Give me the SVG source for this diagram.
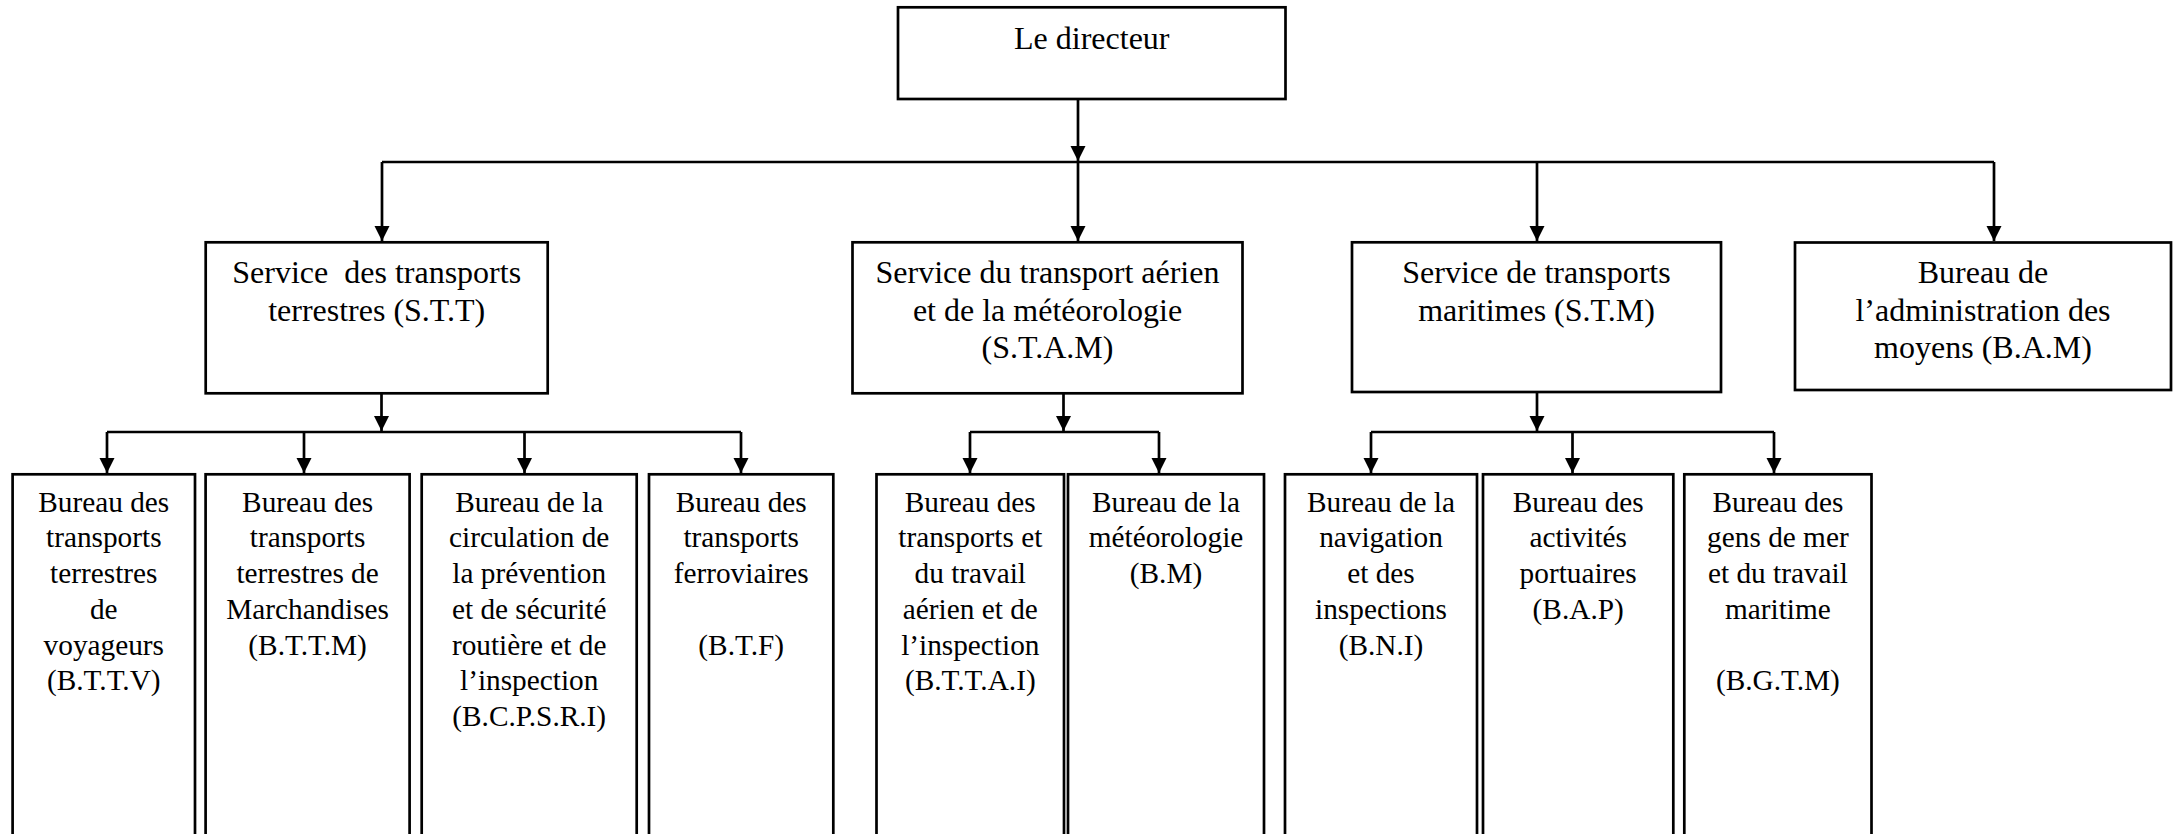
<svg xmlns="http://www.w3.org/2000/svg" width="2178" height="834" viewBox="0 0 2178 834">
<style>
.box{fill:#fff;stroke:#000;stroke-width:2.7}
.t{font-family:"Liberation Serif","Times New Roman",serif;fill:#000;text-anchor:middle}
.l1{font-size:32px}
.l3{font-size:29.3px}
.c{fill:none;stroke:#000;stroke-width:2.7}
.a{marker-end:url(#arr)}
</style>
<defs>
<marker id="arr" markerUnits="userSpaceOnUse" markerWidth="16" markerHeight="16" refX="15" refY="7.5" orient="auto">
<path d="M0,0 L15,7.5 L0,15 z" fill="#000"/>
</marker>
</defs>
<rect width="2178" height="834" fill="#fff"/>
<g id="connectors">
<line class="c a" x1="1078" y1="99" x2="1078" y2="161"/>
<line class="c" x1="382" y1="162" x2="1994" y2="162"/>
<line class="c a" x1="382" y1="162" x2="382" y2="241"/>
<line class="c a" x1="1078" y1="162" x2="1078" y2="241"/>
<line class="c a" x1="1537" y1="162" x2="1537" y2="241"/>
<line class="c a" x1="1994" y1="162" x2="1994" y2="241"/>
<line class="c a" x1="381.5" y1="393" x2="381.5" y2="431"/>
<line class="c" x1="107" y1="432" x2="741" y2="432"/>
<line class="c a" x1="107" y1="432" x2="107" y2="473"/>
<line class="c a" x1="304" y1="432" x2="304" y2="473"/>
<line class="c a" x1="524.5" y1="432" x2="524.5" y2="473"/>
<line class="c a" x1="741" y1="432" x2="741" y2="473"/>
<line class="c a" x1="1063.5" y1="393" x2="1063.5" y2="431"/>
<line class="c" x1="970" y1="432" x2="1159" y2="432"/>
<line class="c a" x1="970" y1="432" x2="970" y2="473"/>
<line class="c a" x1="1159" y1="432" x2="1159" y2="473"/>
<line class="c a" x1="1537" y1="392" x2="1537" y2="431"/>
<line class="c" x1="1371" y1="432" x2="1774" y2="432"/>
<line class="c a" x1="1371" y1="432" x2="1371" y2="473"/>
<line class="c a" x1="1572.5" y1="432" x2="1572.5" y2="473"/>
<line class="c a" x1="1774" y1="432" x2="1774" y2="473"/>
</g>
<g id="directeur">
<rect class="box" x="898" y="7.3" width="387.5" height="91.7"/>
<text class="t l1" x="1091.8" y="49.3">Le directeur</text>
</g>
<g id="stt">
<rect class="box" x="205.7" y="242.3" width="342" height="151"/>
<text class="t l1" xml:space="preserve"><tspan x="376.7" y="283">Service  des transports</tspan><tspan x="376.7" y="320.5">terrestres (S.T.T)</tspan></text>
</g>
<g id="stam">
<rect class="box" x="852.5" y="242.3" width="390" height="151"/>
<text class="t l1"><tspan x="1047.5" y="283">Service du transport aérien</tspan><tspan x="1047.5" y="320.5">et de la météorologie</tspan><tspan x="1047.5" y="358">(S.T.A.M)</tspan></text>
</g>
<g id="stm">
<rect class="box" x="1352" y="242.3" width="369" height="149.7"/>
<text class="t l1"><tspan x="1536.5" y="283">Service de transports</tspan><tspan x="1536.5" y="320.5">maritimes (S.T.M)</tspan></text>
</g>
<g id="bam">
<rect class="box" x="1795" y="242.5" width="376" height="147.5"/>
<text class="t l1"><tspan x="1983" y="283">Bureau de</tspan><tspan x="1983" y="320.5">l’administration des</tspan><tspan x="1983" y="358">moyens (B.A.M)</tspan></text>
</g>
<g id="bttv">
<rect class="box" x="12.6" y="474.3" width="182.4" height="400"/>
<text class="t l3"><tspan x="103.8" y="511.7">Bureau des</tspan><tspan x="103.8" y="547.4">transports</tspan><tspan x="103.8" y="583.1">terrestres</tspan><tspan x="103.8" y="618.8">de</tspan><tspan x="103.8" y="654.5">voyageurs</tspan><tspan x="103.8" y="690.2">(B.T.T.V)</tspan></text>
</g>
<g id="bttm">
<rect class="box" x="205.6" y="474.3" width="204" height="400"/>
<text class="t l3"><tspan x="307.6" y="511.7">Bureau des</tspan><tspan x="307.6" y="547.4">transports</tspan><tspan x="307.6" y="583.1">terrestres de</tspan><tspan x="307.6" y="618.8">Marchandises</tspan><tspan x="307.6" y="654.5">(B.T.T.M)</tspan></text>
</g>
<g id="bcpsri">
<rect class="box" x="421.7" y="474.3" width="215" height="400"/>
<text class="t l3"><tspan x="529.2" y="511.7">Bureau de la</tspan><tspan x="529.2" y="547.4">circulation de</tspan><tspan x="529.2" y="583.1">la prévention</tspan><tspan x="529.2" y="618.8">et de sécurité</tspan><tspan x="529.2" y="654.5">routière et de</tspan><tspan x="529.2" y="690.2">l’inspection</tspan><tspan x="529.2" y="725.9">(B.C.P.S.R.I)</tspan></text>
</g>
<g id="btf">
<rect class="box" x="649" y="474.3" width="184.3" height="400"/>
<text class="t l3"><tspan x="741.2" y="511.7">Bureau des</tspan><tspan x="741.2" y="547.4">transports</tspan><tspan x="741.2" y="583.1">ferroviaires</tspan><tspan x="741.2" y="654.5">(B.T.F)</tspan></text>
</g>
<g id="bttai">
<rect class="box" x="876.5" y="474.3" width="187.5" height="400"/>
<text class="t l3"><tspan x="970.3" y="511.7">Bureau des</tspan><tspan x="970.3" y="547.4">transports et</tspan><tspan x="970.3" y="583.1">du travail</tspan><tspan x="970.3" y="618.8">aérien et de</tspan><tspan x="970.3" y="654.5">l’inspection</tspan><tspan x="970.3" y="690.2">(B.T.T.A.I)</tspan></text>
</g>
<g id="bm">
<rect class="box" x="1068" y="474.3" width="196" height="400"/>
<text class="t l3"><tspan x="1166" y="511.7">Bureau de la</tspan><tspan x="1166" y="547.4">météorologie</tspan><tspan x="1166" y="583.1">(B.M)</tspan></text>
</g>
<g id="bni">
<rect class="box" x="1285" y="474.3" width="192" height="400"/>
<text class="t l3"><tspan x="1381" y="511.7">Bureau de la</tspan><tspan x="1381" y="547.4">navigation</tspan><tspan x="1381" y="583.1">et des</tspan><tspan x="1381" y="618.8">inspections</tspan><tspan x="1381" y="654.5">(B.N.I)</tspan></text>
</g>
<g id="bap">
<rect class="box" x="1483" y="474.3" width="190.3" height="400"/>
<text class="t l3"><tspan x="1578.2" y="511.7">Bureau des</tspan><tspan x="1578.2" y="547.4">activités</tspan><tspan x="1578.2" y="583.1">portuaires</tspan><tspan x="1578.2" y="618.8">(B.A.P)</tspan></text>
</g>
<g id="bgtm">
<rect class="box" x="1684.3" y="474.3" width="187.2" height="400"/>
<text class="t l3"><tspan x="1777.9" y="511.7">Bureau des</tspan><tspan x="1777.9" y="547.4">gens de mer</tspan><tspan x="1777.9" y="583.1">et du travail</tspan><tspan x="1777.9" y="618.8">maritime</tspan><tspan x="1777.9" y="690.2">(B.G.T.M)</tspan></text>
</g>
</svg>
